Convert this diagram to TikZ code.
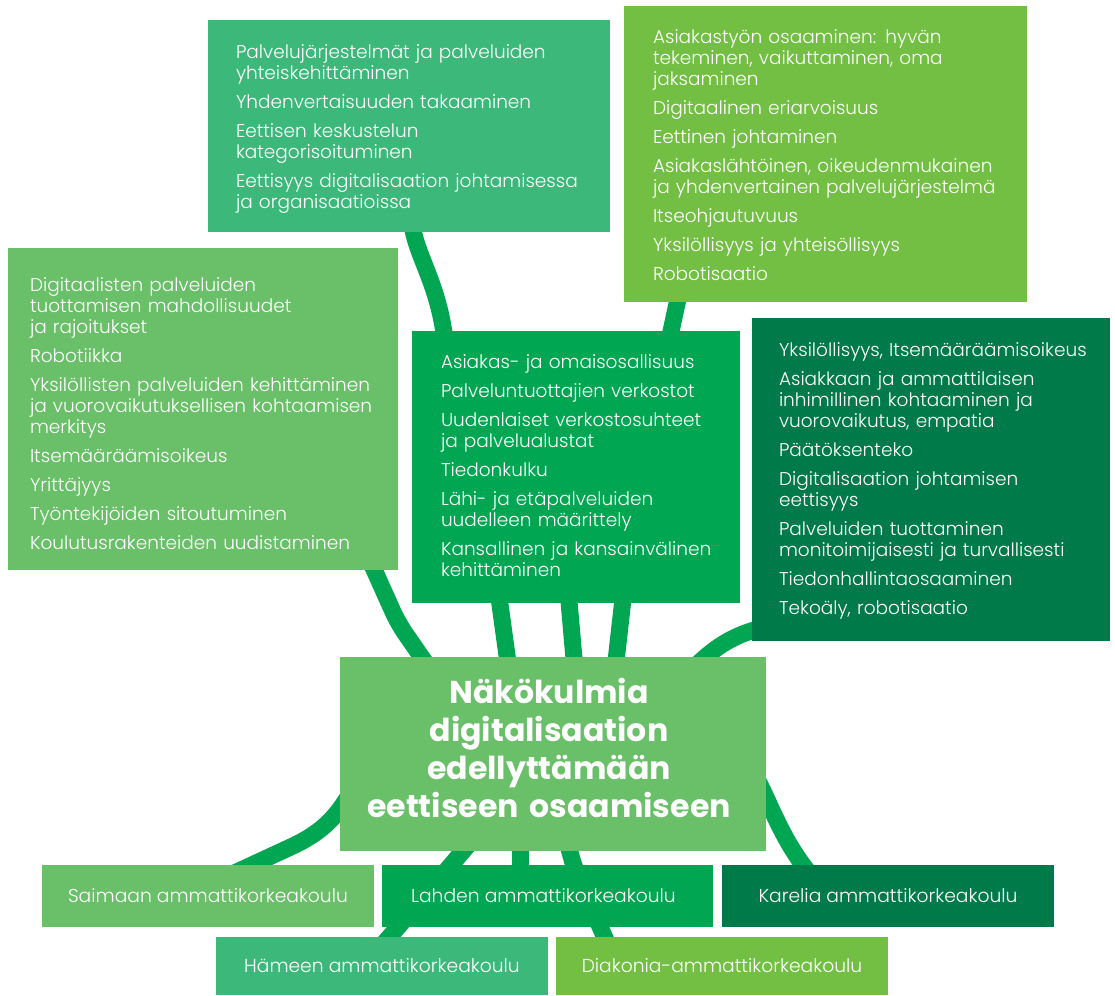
\documentclass[tikz,border=0pt]{standalone}
\usepackage{fontspec}
\setmainfont{Poppins}
\IfFontExistsTF{Poppins Light}{\newfontfamily\bodyfont{Poppins Light}}{\newfontfamily\bodyfont{Poppins}}
\definecolor{cA}{HTML}{3CB97A}
\definecolor{cB}{HTML}{72BF44}
\definecolor{cC}{HTML}{6ABF69}
\definecolor{cD}{HTML}{00A651}
\definecolor{cE}{HTML}{007A48}
\definecolor{cConn}{HTML}{00A651}
\pgfdeclarelayer{bg}
\pgfsetlayers{bg,main}
\newcommand\bodysize{\bodyfont\fontsize{18.5}{21}\selectfont\lineskiplimit=-30pt\relax}
\newcommand\labelsize{\bodyfont\fontsize{18.7}{21}\selectfont}
\newcommand\titlesize{\bfseries\fontsize{31.6}{38}\selectfont}
\tikzset{
  box/.style={anchor=north west, inner sep=0pt, outer sep=0pt, draw=none, text=white, font=\labelsize},
  body/.style={anchor=base west, inner sep=0pt, outer sep=0pt, text=white, text width=420pt, align=left, font=\bodysize},
  titletext/.style={anchor=base, inner sep=0pt, outer sep=0pt, text=white, text width=420pt, font=\titlesize},
  conn/.style={draw=cConn, line width=17pt}
}
\begin{document}
\begin{tikzpicture}[x=1pt,y=-1pt]
\useasboundingbox (0,0) rectangle (1115,995);
\begin{pgfonlayer}{bg}
\fill[white] (0,0) rectangle (1115,995);
\end{pgfonlayer}

% boxes
\node[box, fill=cA, minimum width=402pt, minimum height=212pt] (A) at (208,20) {};
\node[box, fill=cB, minimum width=403pt, minimum height=296pt] (B) at (624,6) {};
\node[box, fill=cC, minimum width=390pt, minimum height=322pt] (C) at (8,248) {};
\node[box, fill=cD, minimum width=328pt, minimum height=272pt] (D) at (412,331) {};
\node[box, fill=cE, minimum width=358pt, minimum height=323pt] (E) at (752,318) {};
\node[box, fill=cC, minimum width=426pt, minimum height=194pt] (F) at (340,657) {};
\node[box, fill=cC, minimum width=332pt, minimum height=62pt] (G) at (42,865) {Saimaan ammattikorkeakoulu};
\node[box, fill=cD, minimum width=331pt, minimum height=62pt] (H) at (382,865) {};
\node[anchor=center, inner sep=0pt, text=white, font=\labelsize] (Ht) at ([xshift=-4pt]H.center) {Lahden ammattikorkeakoulu};
\node[box, fill=cE, minimum width=332pt, minimum height=62pt] (I) at (722,865) {Karelia ammattikorkeakoulu};
\node[box, fill=cA, minimum width=332pt, minimum height=58pt] (J) at (216,937) {Hämeen ammattikorkeakoulu};
\node[box, fill=cB, minimum width=332pt, minimum height=58pt] (K) at (556,937) {Diakonia-ammattikorkeakoulu};

% texts
\node[body] (At) at (236,59) {Palvelujärjestelmät ja palveluiden\\yhteiskehittäminen\\[8pt]
Yhdenvertaisuuden takaaminen\\[8pt]
Eettisen keskustelun\\kategorisoituminen\\[8pt]
Eettisyys digitalisaation johtamisessa\\ja organisaatioissa};

\node[body] (Bt) at (653,44) {Asiakastyön osaaminen: hyvän\\tekeminen, vaikuttaminen, oma\\jaksaminen\\[8pt]
Digitaalinen eriarvoisuus\\[8pt]
Eettinen johtaminen\\[8pt]
Asiakaslähtöinen, oikeudenmukainen\\ja yhdenvertainen palvelujärjestelmä\\[8pt]
Itseohjautuvuus\\[8pt]
Yksilöllisyys ja yhteisöllisyys\\[8pt]
Robotisaatio};

\node[body] (Ct) at (30,291) {Digitaalisten palveluiden\\tuottamisen mahdollisuudet\\ja rajoitukset\\[8pt]
Robotiikka\\[8pt]
Yksilöllisten palveluiden kehittäminen\\ja vuorovaikutuksellisen kohtaamisen\\merkitys\\[8pt]
Itsemääräämisoikeus\\[8pt]
Yrittäjyys\\[8pt]
Työntekijöiden sitoutuminen\\[8pt]
Koulutusrakenteiden uudistaminen};

\node[body] (Dt) at (441,368) {Asiakas- ja omaisosallisuus\\[8pt]
Palveluntuottajien verkostot\\[8pt]
Uudenlaiset verkostosuhteet\\ja palvelualustat\\[8pt]
Tiedonkulku\\[8pt]
Lähi- ja etäpalveluiden\\uudelleen määrittely\\[8pt]
Kansallinen ja kansainvälinen\\kehittäminen};

\node[body] (Et) at (779,356) {Yksilöllisyys, Itsemääräämisoikeus\\[8pt]
Asiakkaan ja ammattilaisen\\inhimillinen kohtaaminen ja\\vuorovaikutus, empatia\\[8pt]
Päätöksenteko\\[8pt]
Digitalisaation johtamisen\\eettisyys\\[8pt]
Palveluiden tuottaminen\\monitoimijaisesti ja turvallisesti\\[8pt]
Tiedonhallintaosaaminen\\[8pt]
Tekoäly, robotisaatio};

\node[titletext] (Ft) at (549,703) {\centering Näkökulmia\\digitalisaation\\edellyttämään\\eettiseen osaamiseen\par};

% connectors
\begin{pgfonlayer}{bg}
\draw[conn] ([xshift=2pt,yshift=17pt]A.south) .. controls (413,255) and (440,280) .. ([xshift=34pt,yshift=-19pt]D.north west);
\draw[conn] ([xshift=57pt,yshift=17pt]B.south west) -- ([xshift=255pt,yshift=-19pt]D.north west);
\draw[conn, rounded corners=12pt] ([xshift=-35pt,yshift=25pt]C.south east) -- (398,623) -- ([xshift=94pt,yshift=-18pt]F.north west);
\draw[conn] ([xshift=86pt,yshift=13pt]D.south west) -- ([xshift=169pt,yshift=-13pt]F.north west);
\draw[conn] ([xshift=-8pt,yshift=13pt]D.south) -- ([xshift=22pt,yshift=-13pt]F.north);
\draw[conn] ([xshift=48pt,yshift=13pt]D.south) -- ([xshift=62pt,yshift=-13pt]F.north);
\draw[conn] ([xshift=35pt,yshift=17pt]E.south west) .. controls (745,628) and (718,642) .. ([xshift=-76pt,yshift=-15pt]F.north east);
\draw[conn] ([xshift=20pt,yshift=-21pt]F.west) .. controls (340,815) and (325,830) .. (295,845) -- ([xshift=158pt,yshift=-24pt]G.north west);
\draw[conn] ([xshift=-14pt,yshift=-16pt]F.east) .. controls (770,800) and (780,840) .. ([xshift=93pt,yshift=-15pt]I.north west);
\draw[conn] ([xshift=-72pt,yshift=21pt]F.south) -- ([xshift=-8pt,yshift=-18pt]J.north);
\draw[conn] ([xshift=-33pt,yshift=21pt]F.south) -- ([xshift=-27.5pt,yshift=-15pt]H.north);
\draw[conn] ([xshift=13pt,yshift=21pt]F.south) .. controls (570,870) and (590,900) .. ([xshift=-110pt,yshift=-18pt]K.north);
\end{pgfonlayer}
\end{tikzpicture}
\end{document}
